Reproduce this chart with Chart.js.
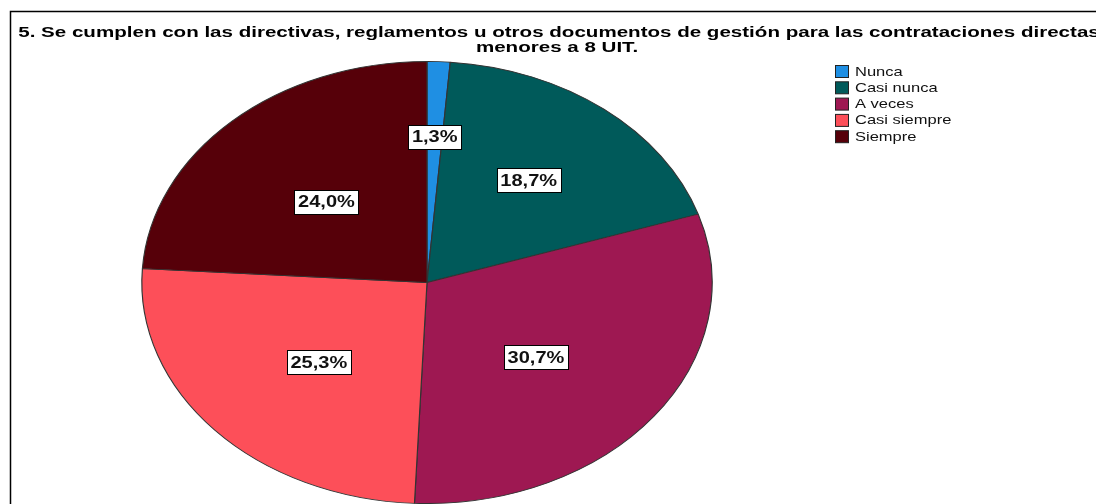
<!DOCTYPE html>
<html>
<head>
<meta charset="utf-8">
<script src="https://cdn.jsdelivr.net/npm/chart.js@4.4.0/dist/chart.umd.min.js"></script>
<style>
  html, body { margin: 0; padding: 0; background: #fff; }
  #wrap { width: 1096px; height: 504px; position: relative; }
</style>
</head>
<body>
<div id="wrap"><canvas id="myChart" width="1096" height="504"></canvas></div>
<script>
var titleLines = ['5. Se cumplen con las directivas, reglamentos u otros documentos de gestión para las contrataciones directas',
                  'menores a 8 UIT.'];
var categories = ['Nunca', 'Casi nunca', 'A veces', 'Casi siempre', 'Siempre'];
var percents = [1.3, 18.7, 30.7, 25.3, 24.0];
var colors = ['#1f8fe3', '#005a5a', '#9e1852', '#fd4f59', '#560009'];

// pie is drawn as an ellipse: stretch horizontally around the centre
var stretchX = 1.29;
// how far out along each slice the label box sits (fraction of radius)
var labelRx = [0.66, 0.575, 0.48, 0.51, 0.515];
var labelRy = [0.66, 0.59, 0.56, 0.54, 0.50];

// text in the original is horizontally wide, so draw it stretched
function wideText(ctx, txt, x, y, sx) {
	ctx.save();
	ctx.translate(x, y);
	ctx.scale(sx, 1);
	ctx.fillText(txt, 0, 0);
	ctx.restore();
}

var ellipse = {
	id: 'ellipse',
	beforeDraw(chart) {
		var ctx = chart.ctx;
		ctx.save();
		ctx.strokeStyle = '#000';
		ctx.lineWidth = 1.5;
		ctx.beginPath();
		ctx.moveTo(10.5, 504);
		ctx.lineTo(10.5, 11.5);
		ctx.lineTo(1096, 11.5);
		ctx.stroke();
		ctx.restore();
	},
	beforeDatasetsDraw(chart) {
		var a = chart.chartArea;
		var cx = (a.left + a.right) / 2, cy = (a.top + a.bottom) / 2;
		var ctx = chart.ctx;
		ctx.save();
		ctx.translate(cx, cy);
		ctx.scale(stretchX, 1);
		ctx.translate(-cx, -cy);
	},
	afterDatasetsDraw(chart) {
		var ctx = chart.ctx;
		ctx.restore();

		// percentage labels in white boxes
		var meta = chart.getDatasetMeta(0);
		ctx.save();
		ctx.font = 'bold 16px "Liberation Sans", Arial, sans-serif';
		ctx.textAlign = 'center';
		ctx.textBaseline = 'middle';
		meta.data.forEach(function(arc, i) {
			var mid = (arc.startAngle + arc.endAngle) / 2;
			var x = arc.x + Math.cos(mid) * arc.outerRadius * labelRx[i] * stretchX;
			var y = arc.y + Math.sin(mid) * arc.outerRadius * labelRy[i];
			var txt = percents[i].toFixed(1).replace('.', ',') + '%';
			var w = Math.round(ctx.measureText(txt).width * 1.25 + 7);
			var h = 24;
			var bx = Math.round(x - w / 2) + 0.5, by = Math.round(y - h / 2) + 0.5;
			ctx.fillStyle = '#fff';
			ctx.fillRect(bx, by, w, h);
			ctx.strokeStyle = '#000';
			ctx.lineWidth = 1;
			ctx.strokeRect(bx, by, w, h);
			ctx.fillStyle = '#111';
			wideText(ctx, txt, x, y + 1, 1.25);
		});
		ctx.restore();
	},
	afterDraw(chart) {
		var ctx = chart.ctx;
		ctx.save();
		// title
		ctx.fillStyle = '#000';
		ctx.font = 'bold 15px "Liberation Sans", Arial, sans-serif';
		ctx.textAlign = 'center';
		ctx.textBaseline = 'middle';
		wideText(ctx, titleLines[0], 559, 33, 1.37);
		wideText(ctx, titleLines[1], 557, 48, 1.37);
		// legend
		ctx.font = '13px "Liberation Sans", Arial, sans-serif';
		ctx.textAlign = 'left';
		for (var i = 0; i < categories.length; i++) {
			var y = 71 + i * 16.3;
			ctx.fillStyle = colors[i];
			ctx.fillRect(835.5, y - 5.5, 13, 12);
			ctx.strokeStyle = '#222';
			ctx.lineWidth = 1;
			ctx.strokeRect(835.5, y - 5.5, 13, 12);
			ctx.fillStyle = '#111';
			wideText(ctx, categories[i], 855, y + 1, 1.27);
		}
		ctx.restore();
	}
};

const data = {
	labels: categories,
	datasets: [{
		data: percents,
		backgroundColor: colors,
		borderColor: '#333',
		borderWidth: 0.9
	}]
};

const config = {
	type: 'pie',
	data: data,
	options: {
		responsive: false,
		animation: false,
		layout: { padding: { left: 0, right: 242, top: 61, bottom: 0 } },
		plugins: {
			legend: { display: false },
			title: { display: false },
			tooltip: { enabled: false }
		}
	},
	plugins: [ellipse]
};

const myChart = new Chart(document.getElementById('myChart'), config);
</script>
</body>
</html>
